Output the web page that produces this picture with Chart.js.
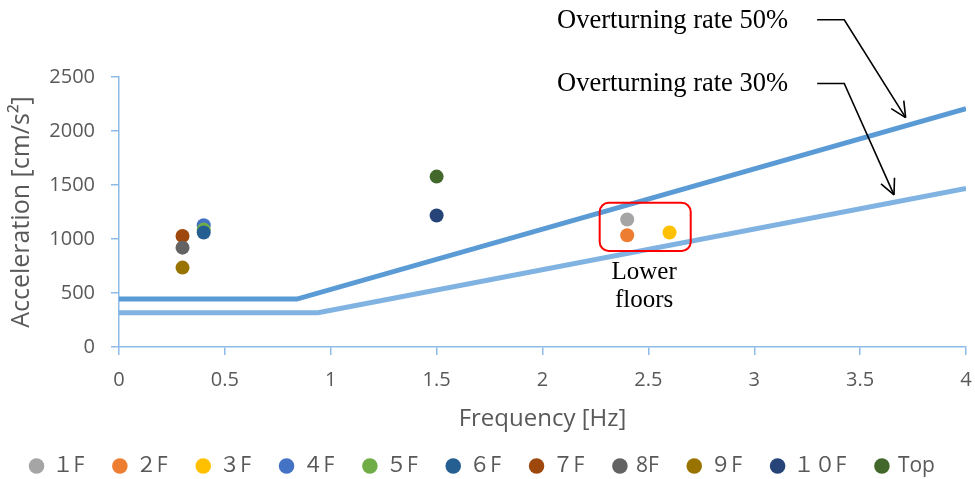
<!DOCTYPE html>
<html>
<head>
<meta charset="utf-8">
<title>Floor response vs overturning rate</title>
<script src="https://cdn.jsdelivr.net/npm/chart.js@4.4.1/dist/chart.umd.min.js"></script>
<style>
  html, body { margin: 0; padding: 0; background: #fff; }
  #chart { display: block; }
</style>
</head>
<body>
<canvas id="chart" width="975" height="479"></canvas>
<script>
// floor labels and measured peak values (Hz, cm/s2)
const floors = ['１F', '２F', '３F', '４F', '５F', '６F', '７F', '8F', '９F', '１０F', 'Top'];
const freqs  = [2.4, 2.4, 2.6, 0.4, 0.4, 0.4, 0.3, 0.3, 0.3, 1.5, 1.5];
const accels = [1180, 1035, 1060, 1127, 1087, 1060, 1028, 920, 735, 1218, 1578];
const colors = ['#A5A5A5', '#ED7D31', '#FFC000', '#4472C4', '#70AD47', '#255E91',
                '#9E480E', '#636363', '#997300', '#264478', '#43682B'];

// overturning rate curves
const rate50X = [0, 0.84, 4];
const rate50Y = [444, 444, 2207];
const rate30X = [0, 0.94, 4];
const rate30Y = [318, 318, 1467];

const xTicks = [0, 0.5, 1, 1.5, 2, 2.5, 3, 3.5, 4];
const yTicks = [0, 500, 1000, 1500, 2000, 2500];

const axisColor = '#8DBAE6';
const textColor = '#595959';
const sans = '"Open Sans", "Noto Sans CJK JP", sans-serif';
const serif = '"Liberation Serif", "Times New Roman", serif';

const toXY = (xs, ys) => xs.map((x, i) => ({ x: x, y: ys[i] }));

const datasets = floors.map((name, i) => ({
  label: name,
  data: [{ x: freqs[i], y: accels[i] }],
  backgroundColor: colors[i],
  borderColor: colors[i],
  borderWidth: 0,
  pointRadius: 7,
  pointHoverRadius: 7,
  order: -i
}));

datasets.push({
  label: 'Overturning rate 50%',
  data: toXY(rate50X, rate50Y),
  showLine: true,
  borderColor: '#5B9BD5',
  borderWidth: 5,
  pointRadius: 0,
  order: 100
});
datasets.push({
  label: 'Overturning rate 30%',
  data: toXY(rate30X, rate30Y),
  showLine: true,
  borderColor: '#80B3E2',
  borderWidth: 5,
  pointRadius: 0,
  order: 101
});

// text, arrows and the highlight box, all placed in data units
const notes = [
  { text: 'Overturning rate 50%', y: 3022, arrow: [[3.297, 3030], [3.425, 3030], [3.715, 2124]] },
  { text: 'Overturning rate 30%', y: 2432, arrow: [[3.297, 2440], [3.425, 2440], [3.66, 1409]] }
];
const lowerBox = { x0: 2.27, x1: 2.70, y0: 890, y1: 1335 };
const lowerText = [{ text: 'Lower', x: 2.48, y: 690 }, { text: 'floors', x: 2.48, y: 430 }];

const annotations = {
  id: 'annotations',
  afterDatasetsDraw(chart) {
    const { ctx, scales: { x, y } } = chart;
    ctx.save();
    ctx.fillStyle = '#000';
    ctx.textBaseline = 'middle';

    ctx.font = '26.5px ' + serif;
    notes.forEach(n => {
      ctx.textAlign = 'left';
      ctx.fillText(n.text, 557, y.getPixelForValue(n.y));
      const pts = n.arrow.map(p => [x.getPixelForValue(p[0]), y.getPixelForValue(p[1])]);
      ctx.strokeStyle = '#000';
      ctx.lineWidth = 1.6;
      ctx.beginPath();
      ctx.moveTo(pts[0][0], pts[0][1]);
      pts.slice(1).forEach(p => ctx.lineTo(p[0], p[1]));
      ctx.stroke();
      // arrow head
      const [a, b] = pts.slice(-2);
      const ang = Math.atan2(b[1] - a[1], b[0] - a[0]);
      ctx.beginPath();
      [-0.45, 0.45].forEach(d => {
        ctx.moveTo(b[0], b[1]);
        ctx.lineTo(b[0] - 17 * Math.cos(ang + d), b[1] - 17 * Math.sin(ang + d));
      });
      ctx.stroke();
    });

    // box round the lower floors
    const bx = x.getPixelForValue(lowerBox.x0);
    const by = y.getPixelForValue(lowerBox.y1);
    const bw = x.getPixelForValue(lowerBox.x1) - bx;
    const bh = y.getPixelForValue(lowerBox.y0) - by;
    ctx.strokeStyle = '#FF0000';
    ctx.lineWidth = 2;
    ctx.beginPath();
    ctx.roundRect(bx, by, bw, bh, 9);
    ctx.stroke();

    ctx.font = '25px ' + serif;
    ctx.textAlign = 'center';
    lowerText.forEach(t => ctx.fillText(t.text, x.getPixelForValue(t.x), y.getPixelForValue(t.y)));
    ctx.restore();
  }
};

new Chart(document.getElementById('chart'), {
  type: 'scatter',
  data: { datasets: datasets },
  plugins: [annotations],
  options: {
    responsive: false,
    animation: false,
    layout: { padding: { left: 0, top: 77, right: 9, bottom: -7.5 } },
    plugins: {
      tooltip: { enabled: false },
      legend: {
        position: 'bottom',
        labels: {
          usePointStyle: true,
          boxWidth: 11,
          boxHeight: 11,
          padding: 30,
          color: textColor,
          font: { family: sans, size: 21 },
          filter: item => item.datasetIndex < floors.length,
          sort: (a, b) => a.datasetIndex - b.datasetIndex
        }
      }
    },
    scales: {
      x: {
        type: 'linear',
        min: 0,
        max: 4,
        afterBuildTicks: s => { s.ticks = xTicks.map(v => ({ value: v })); },
        afterFit: s => {
          s.height = 78.5;
          s.paddingLeft = 0;
          s.paddingRight = 0;
        },
        ticks: { color: textColor, font: { family: sans, size: 20 }, padding: 13, callback: v => String(v) },
        grid: { drawOnChartArea: false, drawTicks: true, tickLength: 8, color: axisColor, lineWidth: 1.5 },
        border: { color: axisColor, width: 1.5 },
        title: {
          display: true,
          text: 'Frequency [Hz]',
          color: textColor,
          font: { family: sans, size: 24, lineHeight: 1 },
          padding: { top: 0, bottom: -6 }
        }
      },
      y: {
        type: 'linear',
        min: 0,
        max: 2500,
        afterBuildTicks: s => { s.ticks = yTicks.map(v => ({ value: v })); },
        afterFit: s => { s.width = 119; },
        ticks: { color: textColor, font: { family: sans, size: 20 }, padding: 16, callback: v => String(v) },
        grid: { drawOnChartArea: false, drawTicks: true, tickLength: 8, color: axisColor, lineWidth: 1.5 },
        border: { color: axisColor, width: 1.5 },
        title: {
          display: true,
          text: 'Acceleration [cm/s²]',
          color: textColor,
          font: { family: sans, size: 25, lineHeight: 1 },
          padding: { top: 9 }
        }
      }
    }
  }
});
</script>
</body>
</html>
